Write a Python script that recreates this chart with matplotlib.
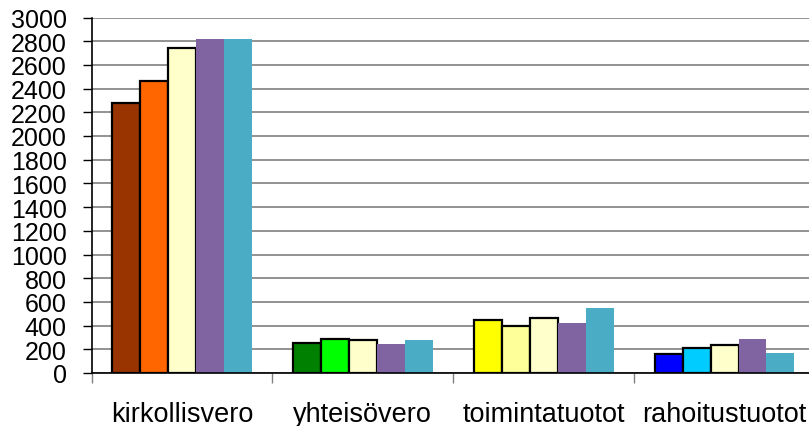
import matplotlib
matplotlib.use("Agg")
import matplotlib.pyplot as plt
import numpy as np

plt.rcParams['font.family'] = ['Liberation Sans', 'DejaVu Sans']

categories = ["kirkollisvero", "yhteisövero", "toimintatuotot", "rahoitustuotot"]
series1 = [2275, 253, 451, 158]
series2 = [2465, 284, 395, 211]
series3 = [2740, 282, 467, 236]
series4 = [2820, 245, 423, 284]
series5 = [2820, 276, 546, 166]
yticks = list(range(0, 3001, 200))

colors1 = ["#993300", "#008000", "#FFFF00", "#0000FF"]
colors2 = ["#FF6600", "#00FF00", "#FFFF99", "#00CCFF"]
colors3 = ["#FFFFCC", "#FFFFCC", "#FFFFCC", "#FFFFCC"]
color4 = "#8064A2"
color5 = "#4BACC6"

W, H = 809, 427
fig = plt.figure(figsize=(W / 100, H / 100), dpi=100)
left, right = 91.5 / W, 815 / W
bottom, top = (H - 374) / H, (H - 18.5) / H
ax = fig.add_axes([left, bottom, right - left, top - bottom])

x = np.arange(len(categories)) + 0.5
bw = 0.1545
all_series = [series1, series2, series3, series4, series5]
for i, vals in enumerate(all_series):
    pos = x + (i - 2) * bw
    if i == 0:
        ax.bar(pos, vals, bw, color=colors1, edgecolor="black", linewidth=1.6, zorder=3)
    elif i == 1:
        ax.bar(pos, vals, bw, color=colors2, edgecolor="black", linewidth=1.6, zorder=3)
    elif i == 2:
        ax.bar(pos, vals, bw, color=colors3, edgecolor="black", linewidth=1.6, zorder=3)
    elif i == 3:
        ax.bar(pos, vals, bw, color=color4, linewidth=0, zorder=3)
    else:
        ax.bar(pos, vals, bw, color=color5, linewidth=0, zorder=3)

ax.set_xlim(0, len(categories))
ax.set_ylim(0, 3000)
ax.set_yticks(yticks)
ax.set_yticklabels([str(v) for v in yticks], fontsize=18)
ax.yaxis.grid(True, color="#7f7f7f", linewidth=1.2, zorder=0)
ax.set_axisbelow(True)

ax.set_xticks(np.arange(len(categories) + 1))
ax.set_xticklabels([])
ax.set_xticks(x, minor=True)
ax.set_xticklabels(categories, minor=True, fontsize=19.5)
ax.tick_params(axis='x', which='minor', length=0, pad=20)
ax.tick_params(axis='x', which='major', length=7, width=1, color="#808080", direction='out')
ax.tick_params(axis='y', length=6.5, width=1, direction='out', pad=11.4)

for s in ["top", "right"]:
    ax.spines[s].set_visible(False)
ax.spines["left"].set_linewidth(1.2)
ax.spines["bottom"].set_linewidth(1.2)
ax.spines["left"].set_zorder(4)
ax.spines["bottom"].set_zorder(4)

fig.savefig("out.png", dpi=100, facecolor="white")
